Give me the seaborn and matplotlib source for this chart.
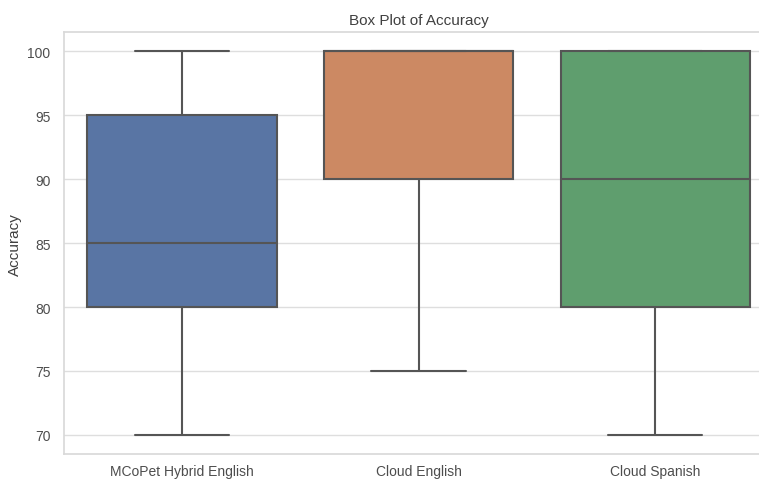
import pandas as pd
import matplotlib
matplotlib.use("Agg")
import matplotlib.pyplot as plt
import seaborn as sns

# Accuracy samples per system
hybrid_english = [70, 80, 85, 95, 100]
cloud_english = [75, 90, 100, 100, 100]
cloud_spanish = [70, 80, 90, 100, 100]
systems = ["MCoPet Hybrid English", "Cloud English", "Cloud Spanish"]

df = pd.DataFrame({
    "System": [systems[0]] * len(hybrid_english)
    + [systems[1]] * len(cloud_english)
    + [systems[2]] * len(cloud_spanish),
    "Accuracy": hybrid_english + cloud_english + cloud_spanish,
})

sns.set_theme(style="whitegrid", rc={"grid.color": ".87", "axes.edgecolor": ".85"})
plt.rcParams["font.family"] = ["Liberation Sans", "DejaVu Sans"]

fig = plt.figure(figsize=(7.59, 4.81), dpi=100)
# axes run a bit past the right edge, as in the (cropped) original
ax = fig.add_axes([0.084, 0.054, 0.935, 0.877])
sns.boxplot(data=df, x="System", y="Accuracy", hue="System", palette="deep",
            linewidth=1.5, linecolor="#555555", ax=ax)

ax.set_title("Box Plot of Accuracy", fontsize=11, color=".25")
ax.set_xlabel("")
ax.set_ylabel("Accuracy", fontsize=11, color=".25")
ax.tick_params(axis="both", labelsize=10, labelcolor=".3")
ax.tick_params(axis="x", pad=1.5)

fig.savefig("out.png", dpi=100)
